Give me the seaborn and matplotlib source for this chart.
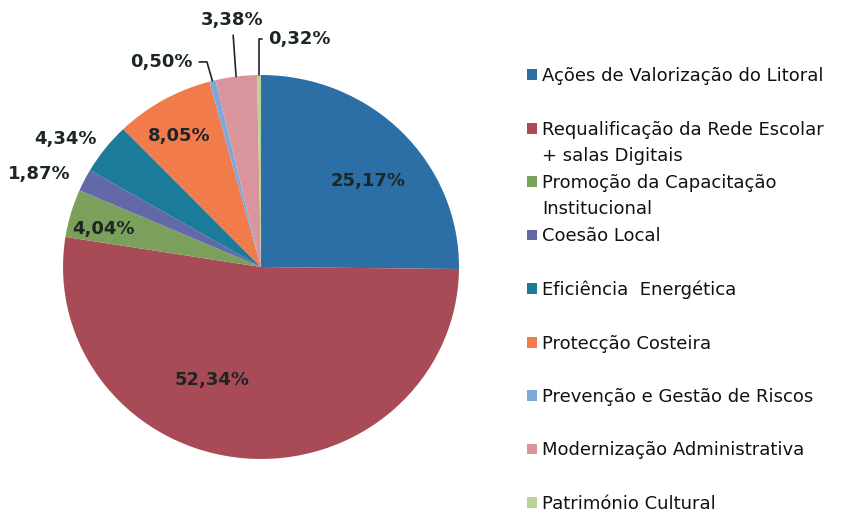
import matplotlib
matplotlib.use('Agg')
import numpy as np
import matplotlib.pyplot as plt
import seaborn as sns

# data
categories = ['Ações de Valorização do Litoral',
              'Requalificação da Rede Escolar',
              'Promoção da Capacitação',
              'Coesão Local',
              'Eficiência  Energética',
              'Protecção Costeira',
              'Prevenção e Gestão de Riscos',
              'Modernização Administrativa',
              'Património Cultural']
second_lines = ['', '+ salas Digitais', 'Institucional', '', '', '', '', '', '']
shares = [25.17, 52.34, 4.04, 1.87, 4.34, 8.05, 0.50, 3.38, 0.32]
pct_labels = ['25,17%', '52,34%', '4,04%', '1,87%', '4,34%', '8,05%', '0,50%', '3,38%', '0,32%']
colors = ['#2c6fa6', '#a94b57', '#7ba05b', '#6268a8', '#1b7b98',
          '#f27b4c', '#7ea7dc', '#d9959b', '#b8d39a']

sns.set_theme(style='white')
plt.rcParams['font.family'] = ['DejaVu Sans']

fig = plt.figure(figsize=(8.62, 5.13), dpi=100)
# the scanned pie is slightly squashed, so no equal aspect
ax = fig.add_axes([0.0731, 0.1053, 0.4594, 0.7485])

wedges, _ = ax.pie(shares, colors=sns.color_palette(colors), startangle=90,
                   counterclock=False, radius=1, wedgeprops=dict(linewidth=0))
ax.set_xlim(-1, 1)
ax.set_ylim(-1, 1)
ax.set_aspect('auto')

label_color = '#1c2626'
lab_font = dict(fontsize=13, fontweight='bold', color=label_color)

# labels placed by wedge mid angle: (radius factor, angle offset in degrees)
polar_layout = {0: (0.70, -5), 1: (0.64, -18), 2: (0.82, 2.3), 3: (1.22, 3.5),
                4: (1.19, 4), 5: (0.80, 1.7)}
for i, (r, off) in polar_layout.items():
    w = wedges[i]
    th = np.deg2rad((w.theta1 + w.theta2) / 2 + off)
    ax.text(r * np.cos(th), r * np.sin(th), pct_labels[i], ha='center', va='center',
            clip_on=False, **lab_font)

# small slices with leader lines: (text pos, ha, connection)
leader_layout = {6: ((-0.343, 1.068), 'right', 'angle,angleA=0,angleB=106,rad=0'),
                 7: ((-0.146, 1.286), 'center', 'arc3'),
                 8: ((0.035, 1.19), 'left', 'angle,angleA=0,angleB=90,rad=0')}
for i, (pos, ha, conn) in leader_layout.items():
    w = wedges[i]
    th = np.deg2rad((w.theta1 + w.theta2) / 2)
    ax.annotate(pct_labels[i], xy=(np.cos(th), np.sin(th)), xytext=pos,
                ha=ha, va='center', annotation_clip=False,
                arrowprops=dict(arrowstyle='-', color='#222222', lw=1.2,
                                connectionstyle=conn, shrinkA=2, shrinkB=0),
                **lab_font)

leg = fig.legend(wedges, categories, loc='upper left', bbox_to_anchor=(0.611, 0.869),
                 frameon=False, fontsize=13, labelspacing=1.96, handlelength=0.55,
                 handleheight=0.55, handletextpad=0.3, borderpad=0, borderaxespad=0)
for txt in leg.get_texts():
    txt.set_color('#111111')

# lay out once so the legend texts have their final place
fig.canvas.draw()
for txt, extra in zip(leg.get_texts(), second_lines):
    if extra:
        ax.annotate(extra, xy=(0, 0), xycoords=txt, xytext=(0, -6),
                    textcoords='offset points', ha='left', va='top',
                    fontsize=13, color='#111111', annotation_clip=False)

fig.savefig('out.png', dpi=100, facecolor='white')
